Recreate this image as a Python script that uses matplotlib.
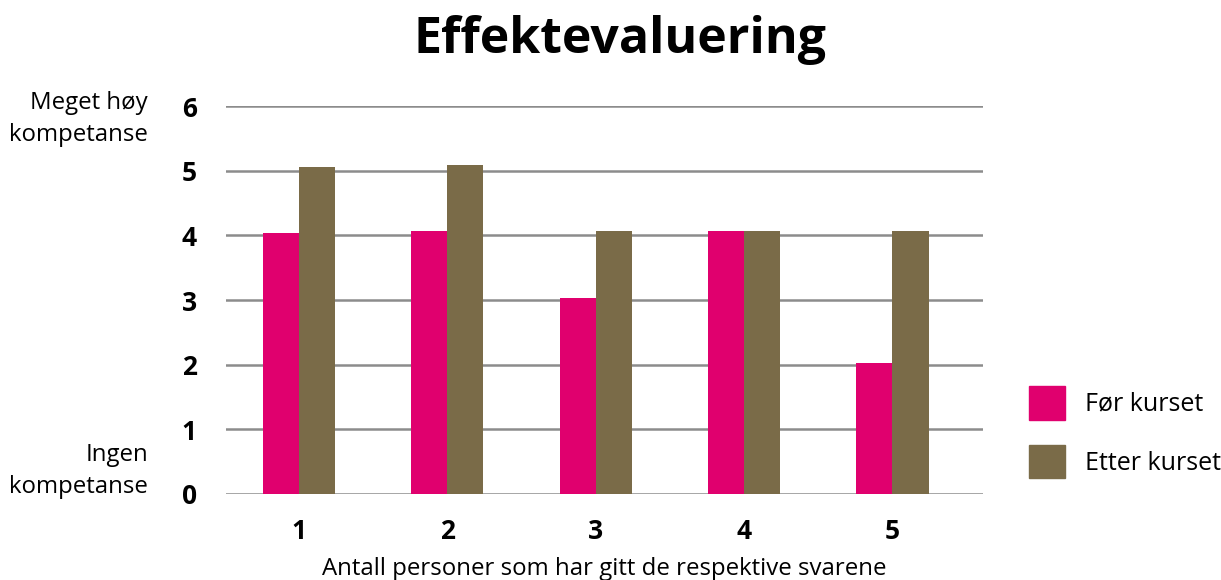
import numpy as np
import matplotlib.pyplot as plt
from matplotlib.patches import Patch

plt.rcParams['font.family'] = ['Open Sans', 'DejaVu Sans']

# data
categories = ['1', '2', '3', '4', '5']
for_kurset = [4.04, 4.07, 3.03, 4.07, 2.03]
etter_kurset = [5.06, 5.08, 4.07, 4.07, 4.07]
series_names = ['Før kurset', 'Etter kurset']
y_ticks = [0, 1, 2, 3, 4, 5, 6]

PINK = '#e0006e'
BROWN = '#7a6b48'
GRID = '#8c8c8c'

fig = plt.figure(figsize=(12.21, 5.80), dpi=100)
ax = fig.add_axes([226 / 1221, 1 - 494 / 580, (983 - 226) / 1221, (494 - 106) / 580])

x = np.arange(len(categories))
w = 0.243
ax.bar(x - w / 2, for_kurset, width=w, color=PINK, zorder=3)
ax.bar(x + w / 2, etter_kurset, width=w, color=BROWN, zorder=3)

ax.set_xlim(-0.49, 4.61)
ax.set_ylim(0, 6)
ax.set_yticks(y_ticks)
ax.set_yticklabels([str(t) for t in y_ticks], fontsize=19, fontweight='bold')
ax.set_xticks(x)
ax.set_xticklabels(categories, fontsize=19, fontweight='bold')
ax.tick_params(axis='y', length=0, pad=21)
ax.tick_params(axis='x', length=0, pad=17)
ax.yaxis.grid(True, color=GRID, linewidth=1.8, zorder=0)
ax.set_axisbelow(True)
for s in ax.spines.values():
    s.set_visible(False)

ax.set_xlabel('Antall personer som har gitt de respektive svarene', fontsize=17.3, labelpad=9)

fig.text(0.508, 1 - 40 / 580, 'Effektevaluering', ha='center', va='center',
         fontsize=36, fontweight='bold')

fig.text(148 / 1221, 1 - 119 / 580, 'Meget høy\nkompetanse', ha='right', va='center',
         fontsize=17.3, linespacing=1.45)
fig.text(148 / 1221, 1 - 471 / 580, 'Ingen\nkompetanse', ha='right', va='center',
         fontsize=17.3, linespacing=1.45)

handles = [Patch(color=PINK), Patch(color=BROWN)]
fig.legend(handles, series_names, loc='center left',
           bbox_to_anchor=(1029 / 1221, 1 - 432 / 580), frameon=False,
           borderpad=0, borderaxespad=0,
           fontsize=18, handlelength=1.45, handleheight=1.7, labelspacing=1.0,
           handletextpad=0.8)

fig.savefig('out.png', dpi=100)
